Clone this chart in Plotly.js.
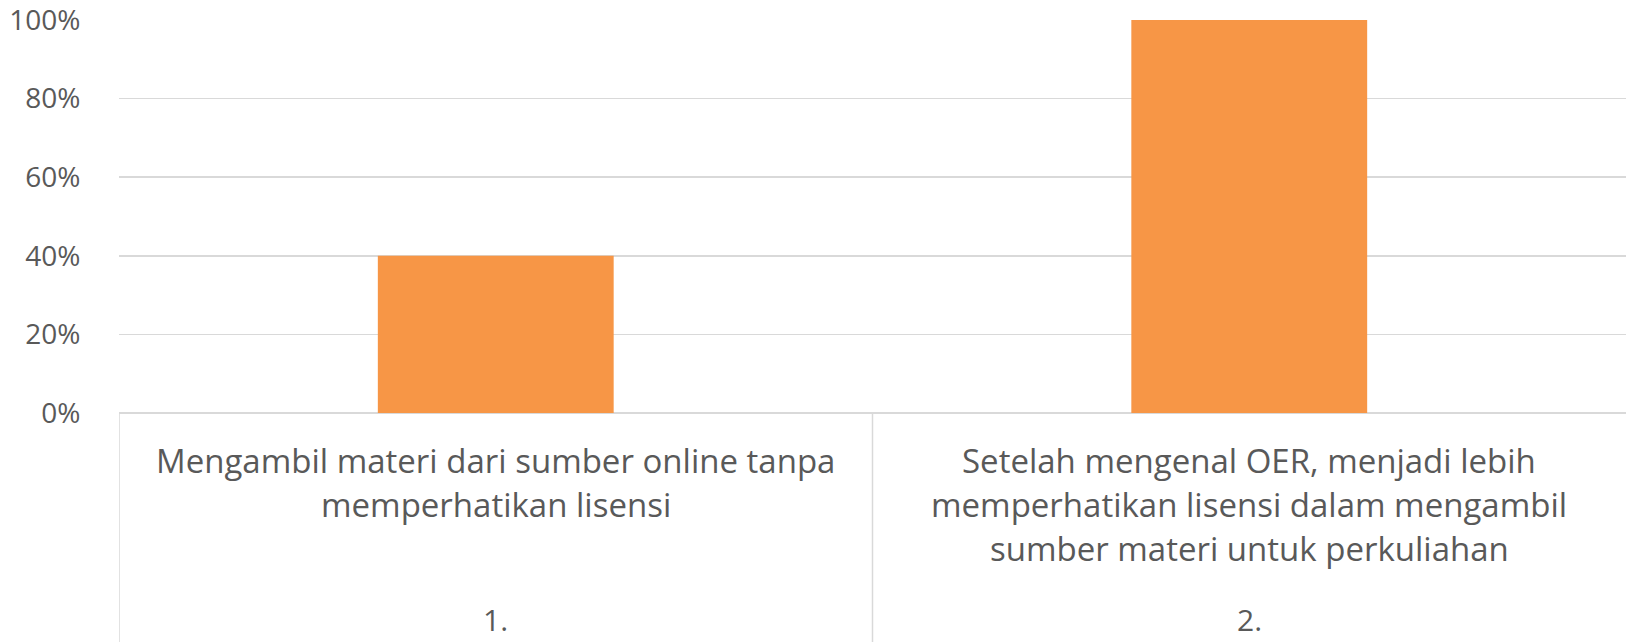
<!DOCTYPE html>
<html>
<head>
<meta charset="utf-8">
<script src="https://cdn.plot.ly/plotly-3.0.1.min.js"></script>
<style>html,body{margin:0;padding:0;background:#fff;}#chart{width:1626px;height:642px;}</style>
</head>
<body>
<div id="chart"></div>
<script>
// Data
const outerLabels = ["1.", "2."];
const innerLabelLines = [
  ["Mengambil materi dari sumber online tanpa", "memperhatikan lisensi"],
  ["Setelah mengenal OER, menjadi lebih", "memperhatikan lisensi dalam mengambil", "sumber materi untuk perkuliahan"]
];
const values = [0.40, 1.00];
const yTickVals = [0, 0.2, 0.4, 0.6, 0.8, 1.0];
const yTickText = ["0%", "20%", "40%", "60%", "80%", "100%"];

const FONT = "Open Sans, sans-serif";
const TEXT_COLOR = "#595959";
const GRID = "#D9D9D9";
const xIdx = values.map((_, i) => i);

const trace = {
  type: "bar",
  x: xIdx,
  y: values,
  marker: {color: "#F79646"},
  width: 0.313,
  hoverinfo: "skip"
};

const annotations = [];
const lineOffsets = [47, 91, 135];
innerLabelLines.forEach((lines, i) => {
  lines.forEach((ln, j) => {
    annotations.push({
      xref: "x", yref: "paper", x: i, y: 0,
      xanchor: "center", yanchor: "middle",
      yshift: -lineOffsets[j],
      text: ln, showarrow: false, borderpad: 0,
      font: {family: FONT, size: 33, color: TEXT_COLOR}
    });
  });
});
outerLabels.forEach((lab, i) => {
  annotations.push({
    xref: "x", yref: "paper", x: i, y: 0,
    xanchor: "center", yanchor: "middle",
    yshift: -206,
    text: lab, showarrow: false, borderpad: 0,
    font: {family: FONT, size: 30, color: TEXT_COLOR}
  });
});

const shapes = [];
for (let k = 0; k <= values.length - 1; k++) {
  shapes.push({
    type: "line", xref: "x", yref: "paper",
    x0: k - 0.5, x1: k - 0.5, y0: 0, y1: -0.6,
    line: {color: GRID, width: 1.5}
  });
}

const layout = {
  width: 1626, height: 642,
  margin: {l: 119, r: 0, t: 20, b: 229},
  paper_bgcolor: "#fff", plot_bgcolor: "#fff",
  showlegend: false,
  font: {family: FONT, color: TEXT_COLOR},
  xaxis: {
    range: [-0.5, values.length - 0.5],
    showticklabels: false, showgrid: false, zeroline: false,
    showline: false, fixedrange: true
  },
  yaxis: {
    range: [0, 1],
    tickvals: yTickVals, ticktext: yTickText,
    tickfont: {family: FONT, size: 28, color: TEXT_COLOR},
    ticklabeloverflow: "allow",
    showgrid: true, gridcolor: GRID, gridwidth: 1.5,
    zeroline: true, zerolinecolor: GRID, zerolinewidth: 1.5,
    showline: false, ticks: "outside", ticklen: 0, ticklabelstandoff: 32,
    fixedrange: true
  },
  annotations: annotations,
  shapes: shapes
};

Plotly.newPlot("chart", [trace], layout, {staticPlot: true, displayModeBar: false});
</script>
</body>
</html>
